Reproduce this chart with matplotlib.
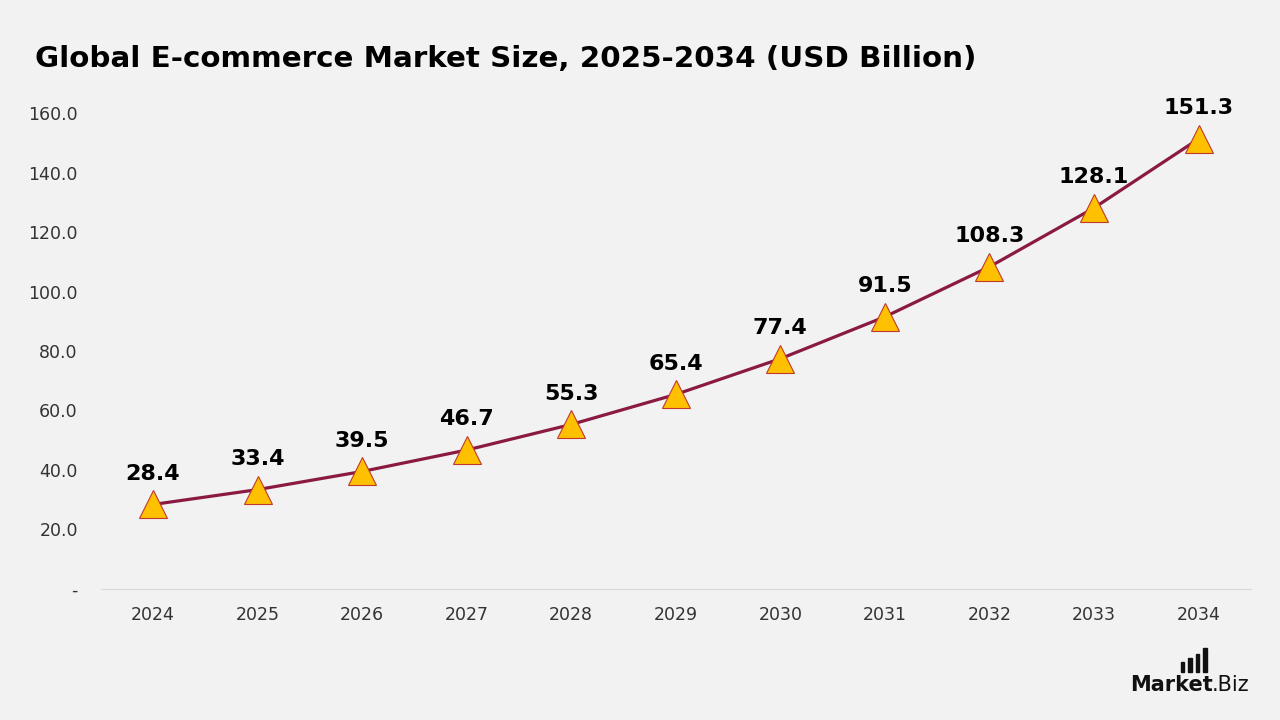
import matplotlib.pyplot as plt
from matplotlib.patches import Rectangle

# data
years = ['2024', '2025', '2026', '2027', '2028', '2029', '2030', '2031', '2032', '2033', '2034']
market_size = [28.4, 33.4, 39.5, 46.7, 55.3, 65.4, 77.4, 91.5, 108.3, 128.1, 151.3]
y_ticks = [0, 20, 40, 60, 80, 100, 120, 140, 160]

bg = '#F2F2F2'
plt.rcParams['font.family'] = ['DejaVu Sans']

fig = plt.figure(figsize=(12.8, 7.2), dpi=100, facecolor=bg)
ax = fig.add_axes([0.0787, 0.182, 0.8985, 0.661])
ax.set_facecolor(bg)

x = list(range(len(years)))
ax.plot(x, market_size, color='#8B1A42', lw=2.3, zorder=2)
ax.plot(x, market_size, ls='none', marker='^', ms=20, mfc='#FFC000',
        mec='#C0392B', mew=0.8, zorder=3)

for xi, v in zip(x, market_size):
    ax.annotate(f'{v:.1f}', (xi, v), xytext=(0, 15), textcoords='offset points',
                ha='center', va='bottom', fontsize=16, fontweight='bold', color='black')

ax.set_xlim(-0.5, len(years) - 0.5)
ax.set_ylim(0, 160)
ax.set_xticks(x)
ax.set_xticklabels(years)
ax.set_yticks(y_ticks)
ax.set_yticklabels(['-' if t == 0 else f'{t:.1f}' for t in y_ticks])
ax.tick_params(length=0, labelsize=12.5, colors='#333333')
ax.tick_params(axis='x', pad=12)
ax.tick_params(axis='y', pad=16.5)

for s in ['top', 'right', 'left']:
    ax.spines[s].set_visible(False)
ax.spines['bottom'].set_color('#D9D9D9')

fig.text(0.027, 0.918, 'Global E-commerce Market Size, 2025-2034 (USD Billion)',
         fontsize=21.2, fontweight='bold', color='black', va='center')

# logo
t1 = fig.text(0.883, 0.035, 'Market', fontsize=15, fontweight='bold', color='#111111', va='bottom')
fig.canvas.draw()
bb = t1.get_window_extent().transformed(fig.transFigure.inverted())
fig.text(bb.x1 - 0.001, 0.035, '.Biz', fontsize=15, color='#111111', va='bottom')
for i, h in enumerate([0.014, 0.020, 0.026, 0.034]):
    fig.patches.append(Rectangle((0.9225 + i * 0.0058, 0.066), 0.0028, h,
                                 transform=fig.transFigure, color='#111111'))

fig.savefig('out.png', dpi=100, facecolor=bg)
